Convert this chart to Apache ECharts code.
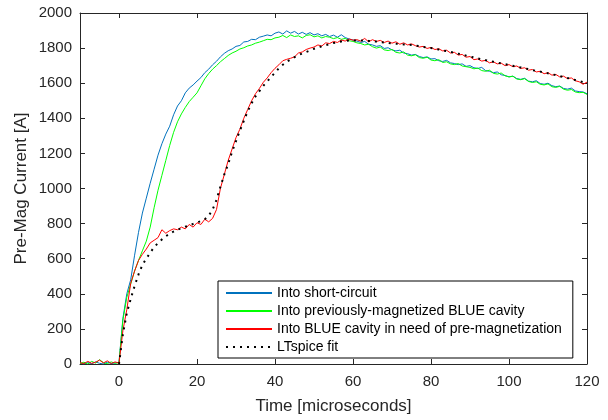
<!DOCTYPE html>
<html>
<head>
<meta charset="utf-8">
<script src="https://cdn.jsdelivr.net/npm/echarts@6/dist/echarts.min.js"></script>
<style>
html,body{margin:0;padding:0;background:#fff;}
#chart{width:608px;height:420px;}
</style>
</head>
<body>
<div id="chart"></div>
<script>
// Time axis samples [microseconds]
const time = [-10,-9,-8,-7,-6,-5,-4,-3,-2,-1,
  0,1,2,3,4,5,6,7,8,9,10,11,12,13,14,15,16,17,18,19,
  20,21,22,23,24,25,26,27,28,29,30,31,32,33,34,35,36,37,38,39,
  40,41,42,43,44,45,46,47,48,49,50,51,52,53,54,55,56,57,58,59,
  60,61,62,63,64,65,66,67,68,69,70,71,72,73,74,75,76,77,78,79,
  80,81,82,83,84,85,86,87,88,89,90,91,92,93,94,95,96,97,98,99,
  100,101,102,103,104,105,106,107,108,109,110,111,112,113,114,115,116,117,118,119,120];

const seriesNames = [
  'Into short-circuit',
  'Into previously-magnetized BLUE cavity',
  'Into BLUE cavity in need of pre-magnetization',
  'LTspice fit'
];

// Pre-Mag current [A]
const shortCircuit = [5,0,8,2,12,4,0,10,3,6,
  10,260,400,480,620,750,860,945,1030,1110,
  1190,1255,1310,1355,1420,1470,1500,1545,1572,1590,
  1612,1632,1660,1680,1705,1725,1750,1770,1785,1795,
  1810,1815,1835,1838,1850,1848,1862,1868,1875,1870,
  1885,1892,1880,1898,1885,1895,1880,1890,1878,1888,
  1875,1882,1870,1878,1866,1874,1862,1876,1860,1852,
  1846,1840,1832,1838,1822,1818,1810,1814,1798,1802,
  1790,1784,1788,1772,1768,1760,1764,1752,1746,1750,
  1738,1740,1728,1724,1730,1716,1712,1706,1710,1696,
  1700,1688,1684,1690,1672,1668,1660,1664,1648,1644,
  1636,1640,1626,1622,1628,1612,1608,1614,1598,1594,
  1600,1586,1580,1584,1570,1566,1572,1556,1552,1550,1540];

const prevMagnetized = [3,10,0,15,5,25,8,2,12,4,
  8,250,380,455,530,590,645,700,780,890,
  990,1075,1160,1245,1320,1380,1425,1462,1495,1520,
  1545,1585,1625,1655,1680,1700,1722,1740,1758,1772,
  1782,1795,1802,1812,1818,1828,1834,1842,1850,1848,
  1858,1862,1872,1860,1875,1866,1870,1858,1872,1876,
  1864,1870,1858,1866,1862,1854,1860,1850,1855,1842,
  1838,1830,1826,1818,1822,1808,1800,1806,1790,1786,
  1792,1776,1772,1778,1760,1756,1762,1746,1742,1748,
  1732,1728,1734,1718,1722,1710,1706,1712,1698,1694,
  1690,1682,1686,1672,1668,1674,1656,1652,1658,1642,
  1636,1640,1624,1620,1626,1610,1604,1608,1594,1590,
  1596,1580,1576,1582,1566,1560,1564,1550,1546,1548,1536];

const needPreMag = [8,2,15,4,10,22,6,18,3,12,
  5,190,310,460,530,590,625,655,690,705,
  720,765,745,760,770,765,780,770,795,780,
  805,795,825,810,830,880,1000,1080,1160,1225,
  1290,1338,1400,1450,1500,1540,1570,1605,1630,1660,
  1685,1705,1728,1736,1742,1750,1772,1778,1792,1800,
  1806,1818,1812,1830,1826,1838,1832,1846,1840,1852,
  1845,1848,1840,1855,1836,1848,1838,1844,1832,1840,
  1828,1836,1822,1830,1818,1824,1814,1806,1810,1798,
  1804,1792,1796,1784,1788,1772,1776,1760,1764,1748,
  1752,1734,1738,1726,1730,1716,1722,1710,1714,1700,
  1706,1694,1698,1684,1688,1674,1678,1664,1668,1654,
  1660,1646,1650,1636,1640,1626,1630,1614,1608,1594,1606];

// LTspice fit, from t = 0 to 120
const fitTime = time.slice(10);
const ltspiceFit = [0,170,290,370,445,510,565,600,635,665,
  690,710,728,742,755,765,774,782,790,798,
  806,814,825,845,880,935,1010,1080,1140,1210,
  1270,1330,1385,1440,1485,1525,1555,1585,1610,1635,
  1660,1685,1705,1722,1735,1748,1760,1770,1778,1787,
  1796,1803,1810,1817,1823,1829,1834,1838,1841,1843,
  1844,1844,1844,1843,1841,1839,1837,1834,1832,1829,
  1826,1825,1823,1821,1820,1818,1815,1811,1807,1804,
  1800,1796,1792,1787,1783,1778,1773,1768,1763,1757,
  1752,1747,1741,1736,1731,1726,1722,1717,1713,1708,
  1704,1699,1694,1690,1685,1680,1675,1670,1666,1661,
  1656,1651,1646,1641,1635,1630,1624,1618,1612,1606,1600];

const xTicks = [0,20,40,60,80,100,120];
const yTicks = [0,200,400,600,800,1000,1200,1400,1600,1800,2000];

const colors = ['#0072BD', '#00FF00', '#FF0000', '#000000'];

const pairs = (xs, ys) => ys.map((v, i) => [xs[i], v]);

const FONT = '"Liberation Sans", Arial, Helvetica, sans-serif';
const AX = '#262626';

const chart = echarts.init(document.getElementById('chart'), null, {renderer: 'canvas'});

const xTickCommon = {show: true, inside: true, length: 5, customValues: xTicks, lineStyle: {color: AX, width: 1}};
const yTickCommon = {show: true, inside: true, length: 5, customValues: yTicks, lineStyle: {color: AX, width: 1}};
const plain = v => String(v);

chart.setOption({
  animation: false,
  backgroundColor: '#ffffff',
  grid: {left: 80, right: 21, top: 13, bottom: 51, containLabel: false},
  xAxis: [{
    type: 'value', min: -10, max: 120, position: 'bottom',
    name: 'Time [microseconds]', nameLocation: 'middle', nameGap: 34,
    nameTextStyle: {fontFamily: FONT, fontSize: 17, color: AX},
    axisLine: {show: true, onZero: false, lineStyle: {color: AX, width: 1}},
    axisTick: xTickCommon,
    axisLabel: {show: true, customValues: xTicks, formatter: plain, margin: 10, fontFamily: FONT, fontSize: 15, color: AX},
    splitLine: {show: false}
  }, {
    type: 'value', min: -10, max: 120, position: 'top',
    axisLine: {show: true, onZero: false, lineStyle: {color: AX, width: 1}},
    axisTick: xTickCommon,
    axisLabel: {show: false},
    splitLine: {show: false}
  }],
  yAxis: [{
    type: 'value', min: 0, max: 2000, interval: 200, position: 'left',
    name: 'Pre-Mag Current [A]', nameLocation: 'middle', nameGap: 50, nameMoveOverlap: false,
    nameTextStyle: {fontFamily: FONT, fontSize: 17, color: AX},
    axisLine: {show: true, onZero: false, lineStyle: {color: AX, width: 1}},
    axisTick: yTickCommon,
    axisLabel: {show: true, margin: 8, fontFamily: FONT, fontSize: 15, color: AX,
      customValues: yTicks, formatter: plain},
    splitLine: {show: false}
  }, {
    type: 'value', min: 0, max: 2000, interval: 200, position: 'right',
    axisLine: {show: true, onZero: false, lineStyle: {color: AX, width: 1}},
    axisTick: yTickCommon,
    axisLabel: {show: false},
    splitLine: {show: false}
  }],
  legend: {
    orient: 'vertical',
    left: 218, top: 281,
    padding: [5, 11, 4, 7],
    itemWidth: 46, itemHeight: 14, itemGap: 4,
    backgroundColor: '#ffffff',
    borderColor: '#000000', borderWidth: 1,
    itemStyle: {opacity: 0},
    textStyle: {fontFamily: FONT, fontSize: 14, color: '#000', lineHeight: 14},
    data: seriesNames
  },
  series: [
    {name: seriesNames[0], type: 'line', data: pairs(time, shortCircuit), symbol: 'none',
      lineStyle: {color: colors[0], width: 1}, itemStyle: {color: colors[0]}, z: 2},
    {name: seriesNames[1], type: 'line', data: pairs(time, prevMagnetized), symbol: 'none',
      lineStyle: {color: colors[1], width: 1}, itemStyle: {color: colors[1]}, z: 3},
    {name: seriesNames[2], type: 'line', data: pairs(time, needPreMag), symbol: 'none',
      lineStyle: {color: colors[2], width: 1}, itemStyle: {color: colors[2]}, z: 4},
    {name: seriesNames[3], type: 'line', data: pairs(fitTime, ltspiceFit), symbol: 'none',
      lineStyle: {color: colors[3], width: 2, type: [2, 5]}, itemStyle: {color: colors[3]}, z: 5}
  ]
});
</script>
</body>
</html>
